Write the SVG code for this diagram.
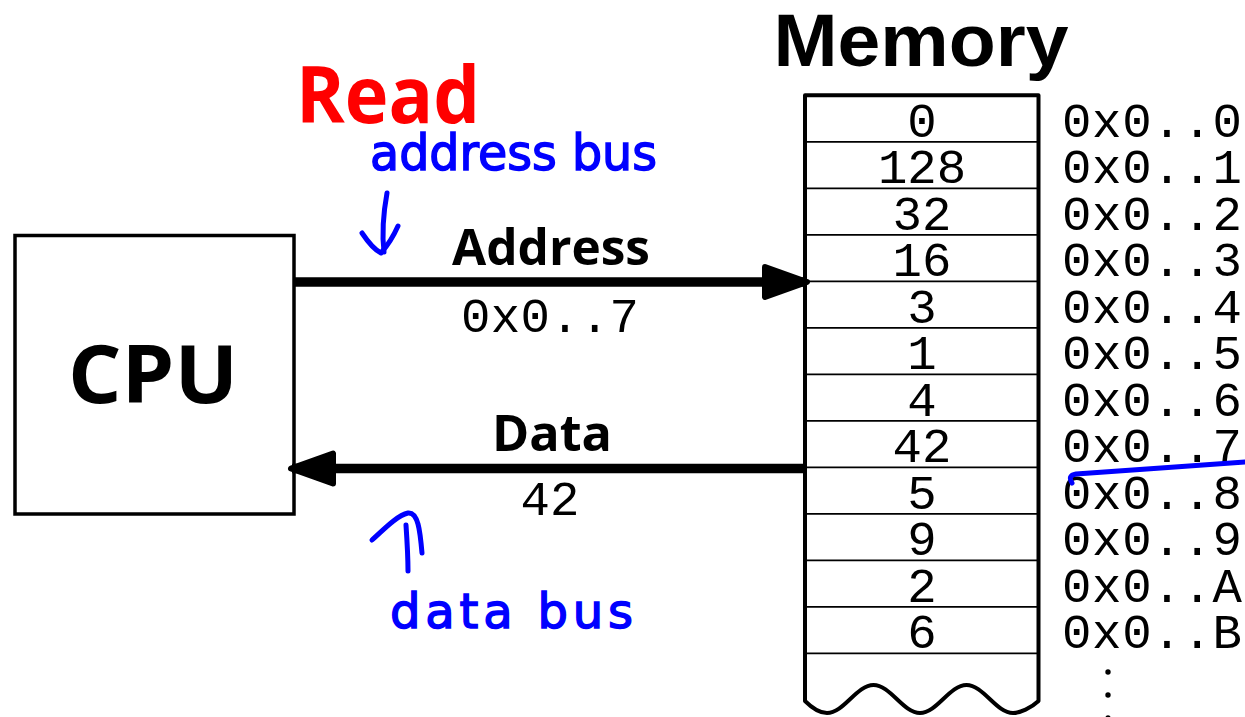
<svg xmlns="http://www.w3.org/2000/svg" width="1245" height="717" viewBox="0 0 1245 717">
  <style>
    .bold { font-family: "Open Sans", "DejaVu Sans", sans-serif; font-weight: bold; fill: #000; }
    .title { font-family: "Liberation Sans", "Open Sans", sans-serif; font-weight: bold; fill: #000; }
    .mono { font-family: "Liberation Mono", "DejaVu Sans Mono", monospace; font-size: 49px; fill: #000; }
    .cell { text-anchor: middle; }
    .row { stroke: #000; stroke-width: 1.8; }
    .bus { stroke: #000; stroke-width: 9.5; fill: none; }
    .hand { font-family: "DejaVu Sans", sans-serif; fill: #0000ff; stroke: #0000ff; stroke-width: 1.5; }
    .ink { fill: none; stroke: #0000ff; stroke-width: 5; stroke-linecap: round; stroke-linejoin: round; }
  </style>
  <defs>
    <marker id="head" viewBox="-4 -20 52 40" markerWidth="52" markerHeight="40" refX="41" refY="0" orient="auto" markerUnits="userSpaceOnUse">
      <path d="M0,-15 L42,0 L0,15 Z" fill="#000" stroke="#000" stroke-width="6" stroke-linejoin="round"/>
    </marker>
  </defs>

  <rect width="1245" height="717" fill="#fff"/>

  <!-- operation title -->
  <text class="bold" x="296" y="123" font-size="78" style="fill:#ff0000" textLength="184" lengthAdjust="spacingAndGlyphs">Read</text>

  <!-- CPU -->
  <g id="cpu">
    <rect x="15" y="235.5" width="279" height="278.5" fill="#fff" stroke="#000" stroke-width="3.5"/>
    <text class="bold" x="153" y="403" font-size="80" text-anchor="middle" textLength="170" lengthAdjust="spacingAndGlyphs">CPU</text>
  </g>

  <!-- Memory -->
  <g id="memory">
    <text class="title" x="921" y="66" font-size="74" text-anchor="middle" textLength="295" lengthAdjust="spacingAndGlyphs">Memory</text>
    <path d="M805,95.3 H1038.5 V701 C1031,708 1020,713 1013,713 C996.1,713 983.4,685 966.5,685 C949.6,685 936.9,713 920,713 C903.1,713 890.4,685 873.5,685 C856.6,685 843.9,713 827,713 C820,713 812,708 805,701 Z" fill="#fff" stroke="#000" stroke-width="4" stroke-linejoin="round"/>
    <g class="row">
      <line x1="805" y1="141.8" x2="1038.5" y2="141.8"/>
      <line x1="805" y1="188.3" x2="1038.5" y2="188.3"/>
      <line x1="805" y1="234.8" x2="1038.5" y2="234.8"/>
      <line x1="805" y1="281.3" x2="1038.5" y2="281.3"/>
      <line x1="805" y1="327.8" x2="1038.5" y2="327.8"/>
      <line x1="805" y1="374.3" x2="1038.5" y2="374.3"/>
      <line x1="805" y1="420.8" x2="1038.5" y2="420.8"/>
      <line x1="805" y1="467.3" x2="1038.5" y2="467.3"/>
      <line x1="805" y1="513.8" x2="1038.5" y2="513.8"/>
      <line x1="805" y1="560.3" x2="1038.5" y2="560.3"/>
      <line x1="805" y1="606.8" x2="1038.5" y2="606.8"/>
      <line x1="805" y1="653.3" x2="1038.5" y2="653.3"/>
    </g>
    <g class="mono cell">
      <text x="922" y="136.8">0</text>
      <text x="922" y="183.3">128</text>
      <text x="922" y="229.8">32</text>
      <text x="922" y="276.3">16</text>
      <text x="922" y="322.8">3</text>
      <text x="922" y="369.3">1</text>
      <text x="922" y="415.8">4</text>
      <text x="922" y="462.3">42</text>
      <text x="922" y="508.8">5</text>
      <text x="922" y="555.3">9</text>
      <text x="922" y="601.8">2</text>
      <text x="922" y="648.3">6</text>
    </g>
  </g>

  <!-- addresses beside the cells -->
  <g id="addresses" class="mono">
    <text x="1062" y="136.8" textLength="180">0x0..0</text>
    <text x="1062" y="183.3" textLength="180">0x0..1</text>
    <text x="1062" y="229.8" textLength="180">0x0..2</text>
    <text x="1062" y="276.3" textLength="180">0x0..3</text>
    <text x="1062" y="322.8" textLength="180">0x0..4</text>
    <text x="1062" y="369.3" textLength="180">0x0..5</text>
    <text x="1062" y="415.8" textLength="180">0x0..6</text>
    <text x="1062" y="462.3" textLength="180">0x0..7</text>
    <text x="1062" y="508.8" textLength="180">0x0..8</text>
    <text x="1062" y="555.3" textLength="180">0x0..9</text>
    <text x="1062" y="601.8" textLength="180">0x0..A</text>
    <text x="1062" y="648.3" textLength="180">0x0..B</text>
    <circle cx="1108" cy="672" r="2.7" fill="#000"/>
    <circle cx="1108" cy="695" r="2.7" fill="#000"/>
    <circle cx="1108" cy="718" r="2.7" fill="#000"/>
  </g>

  <!-- buses -->
  <g id="connectors">
    <line class="bus" x1="294" y1="282" x2="806" y2="282" marker-end="url(#head)"/>
    <line class="bus" x1="806" y1="468.5" x2="292" y2="468.5" marker-end="url(#head)"/>
    <text class="bold" x="551" y="265" font-size="50" text-anchor="middle" textLength="198" lengthAdjust="spacingAndGlyphs">Address</text>
    <text class="mono" x="550" y="332" text-anchor="middle" textLength="178">0x0..7</text>
    <text class="bold" x="552" y="451" font-size="50" text-anchor="middle" textLength="120" lengthAdjust="spacingAndGlyphs">Data</text>
    <text class="mono" x="550" y="515" text-anchor="middle">42</text>
  </g>

  <!-- pen annotations -->
  <g id="annotations">
    <text class="hand" x="370" y="170" font-size="50" textLength="287" lengthAdjust="spacingAndGlyphs">address bus</text>
    <path class="ink" d="M387,193 C383,215 382,235 384,252"/>
    <path class="ink" d="M362,233 C368,242 375,250 381,253 C388,245 394,235 398,226"/>
    <text class="hand" x="390" y="628" font-size="48" textLength="243" lengthAdjust="spacing">data bus</text>
    <path class="ink" d="M372,540 C385,528 398,515 408,513 C418,512 420,530 422,553"/>
    <path class="ink" d="M406,525 C407,540 408,556 408,571"/>
    <path class="ink" d="M1072,483 C1069,478 1070,475 1076,474 C1130,470 1190,466 1245,462"/>
  </g>
</svg>
